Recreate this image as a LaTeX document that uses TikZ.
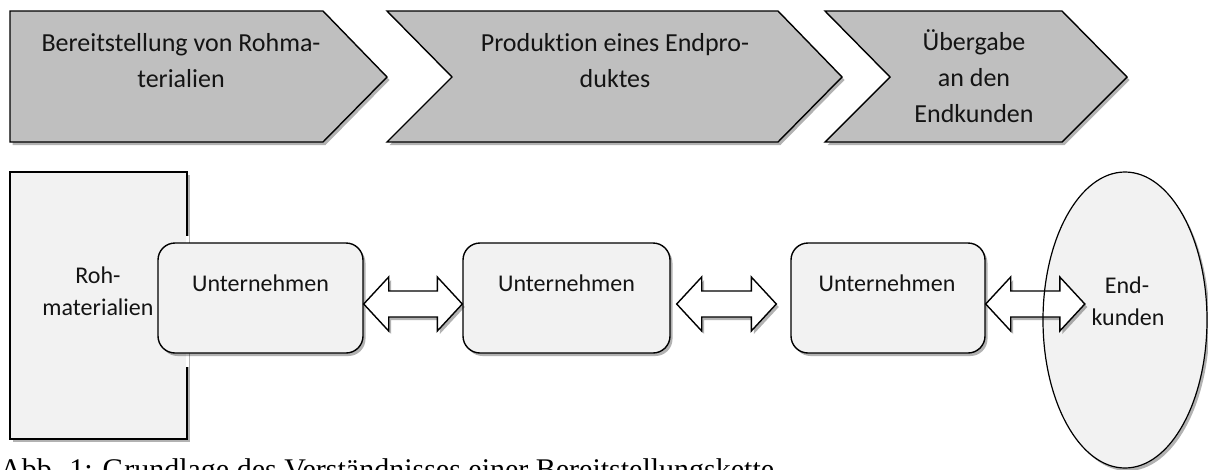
\documentclass[tikz,border=0pt]{standalone}
\usepackage{fontspec}
\setmainfont{Carlito}[Ligatures={NoCommon}]
\newfontfamily\capfont{Liberation Serif}
\usetikzlibrary{shapes.geometric,shadows,calc}
\definecolor{chevgrey}{HTML}{BFBFBF}
\definecolor{boxgrey}{HTML}{F2F2F2}
\definecolor{inkc}{HTML}{141414}
\tikzset{
  shd/.style={drop shadow={shadow xshift=2.5pt, shadow yshift=-3pt, opacity=0.3, fill=black}},
  chev/.style={draw=black, line width=1.4pt, fill=chevgrey, line join=miter, shd},
  rawbox/.style={rectangle, draw=black, line width=1.4pt, fill=boxgrey, inner sep=0pt, shd},
  firmbox/.style={rectangle, rounded corners=17pt, draw=black, line width=1.4pt, fill=boxgrey, inner sep=0pt, minimum height=110pt, shd},
  custfill/.style={ellipse, fill=boxgrey, inner sep=0pt, minimum width=164pt, minimum height=296pt, shd},
  custline/.style={ellipse, draw=black, line width=1.2pt, inner sep=0pt, minimum width=164pt, minimum height=296pt},
  darr/.style={draw=black, line width=1.4pt, fill=white, line join=miter, shd},
  toptext/.style={font=\fontsize{26}{31}\selectfont, text=inkc, inner sep=0pt, anchor=base},
  lowtext/.style={font=\fontsize{24}{29}\selectfont, text=inkc, inner sep=0pt, anchor=base},
  captext/.style={font=\capfont\fontsize{30}{36}\selectfont, text=black, inner sep=0pt, anchor=base west}
}
\newcommand{\DoubleArr}[2]{%
  \draw[darr] (#1) -- ++(25,-27) -- ++(0,14) -- ($(#2)+(-25,-13)$) -- ++(0,-14) -- (#2)
    -- ++(-25,27) -- ++(0,-14) -- ($(#1)+(25,13)$) -- ++(0,14) -- cycle;}
\begin{document}
\begin{tikzpicture}[x=1pt, y=-1pt]
\useasboundingbox (0,0) rectangle (1208,469);
\clip (0,0) rectangle (1208,469);
\fill[white] (0,0) rectangle (1208,469);

% top chevrons
\draw[chev] (10,11) -- (323,11) -- (387,77) -- (323,142) -- (10,142) -- cycle;
\draw[chev] (387,11) -- (778,11) -- (842,77) -- (778,142) -- (387,142) -- (452,77) -- cycle;
\draw[chev] (825,11) -- (1062,11) -- (1127,77) -- (1062,142) -- (825,142) -- (890,77) -- cycle;

\node[toptext] (c1a) at (181,51) {Bereitstellung von Rohma-};
\node[toptext] (c1b) at (181,87) {terialien};
\node[toptext] (c2a) at (615,51) {Produktion eines Endpro-};
\node[toptext] (c2b) at (615,87) {duktes};
\node[toptext] (c3a) at (974,50) {Übergabe};
\node[toptext] (c3b) at (974,86) {an den};
\node[toptext] (c3c) at (974,122) {Endkunden};

% raw materials
\node[rawbox, minimum width=177pt, minimum height=267pt] (rm) at (98.5,305.5) {};
\draw[white, line width=2.5pt] ($(rm.north east)+(0,65)$) coordinate (gapa) -- ($(rm.north east)+(0,196)$) coordinate (gapb);
\node[lowtext] (rma) at (98,283) {Roh-};
\node[lowtext] (rmb) at (98,315) {materialien};

% companies
\node[firmbox, minimum width=205pt] (u1) at (260.5,298) {};
\node[firmbox, minimum width=207pt] (u2) at (566.5,298) {};
\node[firmbox, minimum width=194pt] (u3) at (888,298) {};
\node[lowtext] (t1) at (260.5,291) {Unternehmen};
\node[lowtext] (t2) at (566.5,291) {Unternehmen};
\node[lowtext] (t3) at (887,291) {Unternehmen};

% end customers
\node[custfill] (ek) at (1125,320) {};

% double arrows
\coordinate (a1l) at ($(u1.east)+(0,6)$);
\coordinate (a1r) at ($(u2.west)+(0,6)$);
\coordinate (a2l) at ($(u2.east)+(6,6)$);
\coordinate (a2r) at ($(u3.west)+(-14,6)$);
\coordinate (a3l) at ($(u3.east)+(0,6)$);
\coordinate (a3r) at ($(ek.west)+(42,-16)$);
\DoubleArr{a1l}{a1r}
\DoubleArr{a2l}{a2r}
\DoubleArr{a3l}{a3r}

\node[custline] (ekline) at (ek.center) {};
\node[lowtext] (eka) at (1127,293) {End-};
\node[lowtext] (ekb) at (1128,325) {kunden};

% caption
\node[captext] (cap) at (0,479) {Abb. 1: Grundlage des Verständnisses einer Bereitstellungskette};
\end{tikzpicture}
\end{document}
